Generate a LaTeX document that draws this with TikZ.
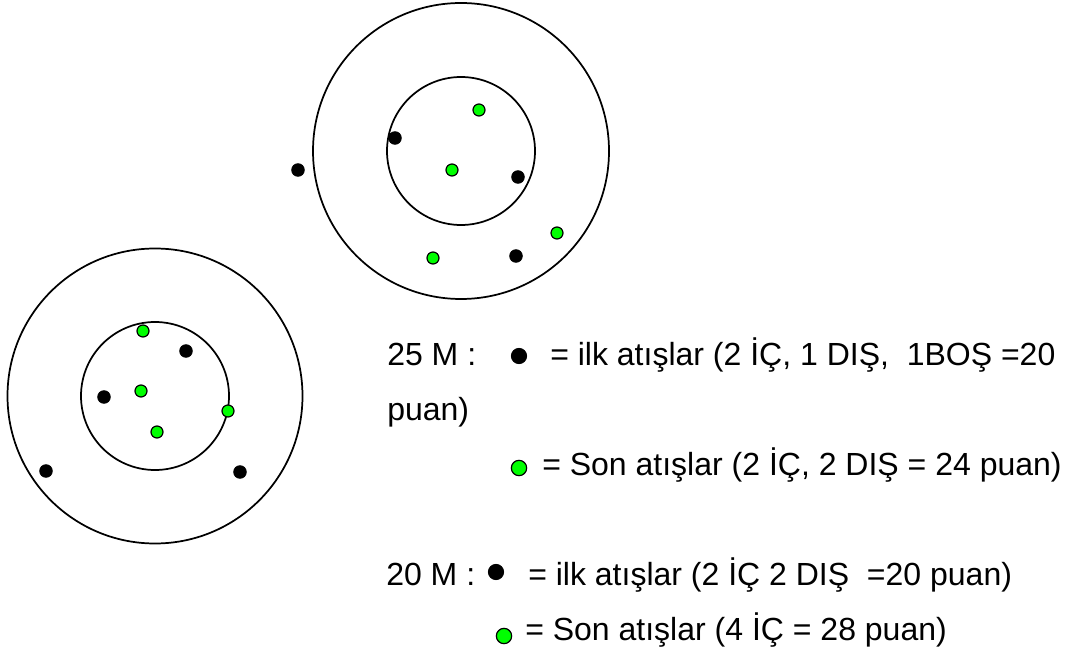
\documentclass[tikz,border=0pt]{standalone}
\usepackage{fontspec}
\setmainfont{Liberation Sans}
\begin{document}
\begin{tikzpicture}[x=0.75pt,y=-0.75pt,
  ring/.style={draw=black,line width=1.3pt},
  hit/.style={circle,fill=black,draw=black,line width=0.6pt,minimum size=9.5pt,inner sep=0pt},
  lasthit/.style={circle,fill=green,draw=black,line width=0.9pt,minimum size=9pt,inner sep=0pt},
  keyhit/.style={hit,minimum size=11.5pt},
  keylast/.style={lasthit,minimum size=11.5pt},
  lab/.style={anchor=base west,inner sep=0pt,font=\fontsize{24pt}{29pt}\selectfont}]
\useasboundingbox (0,0) rectangle (1080,655);
% 25 m target
\coordinate (tA) at (461,151);
\draw[ring] (tA) circle[radius=148*0.75pt];
\draw[ring] (tA) circle[radius=74*0.75pt];
\node[hit] (a1) at (298,170) {};
\node[hit] (a2) at (395,138) {};
\node[hit] (a3) at (518,177) {};
\node[hit] (a4) at (516,256) {};
\node[lasthit] (a5) at (479,110) {};
\node[lasthit] (a6) at (452,170) {};
\node[lasthit] (a7) at (557,233) {};
\node[lasthit] (a8) at (433,258) {};
% 20 m target
\coordinate (tB) at (155,396);
\draw[ring] (tB) circle[radius=147.5*0.75pt];
\draw[ring] (tB) circle[radius=74*0.75pt];
\node[hit] (b1) at (186,351) {};
\node[hit] (b2) at (104,397) {};
\node[hit] (b3) at (46,471) {};
\node[hit] (b4) at (240,472) {};
\node[lasthit] (b5) at (143,331) {};
\node[lasthit] (b6) at (141,391) {};
\node[lasthit] (b7) at (228,411) {};
\node[lasthit] (b8) at (157,432) {};
% legend
\node[lab] (l1) at (387,365) {25 M :};
\node[keyhit] (k1) at (519,356) {};
\node[lab] (l2) at (550,365) {= ilk atışlar (2 İÇ, 1 DIŞ,\ \ 1BOŞ =20};
\node[lab] (l3) at (387,420) {puan)};
\node[keylast] (k2) at (519,468) {};
\node[lab] (l4) at (542,475) {= Son atışlar (2 İÇ, 2 DIŞ = 24 puan)};
\node[lab] (l5) at (386,585) {20 M :};
\node[keyhit] (k3) at (496,572) {};
\node[lab] (l6) at (528,585) {= ilk atışlar (2 İÇ 2 DIŞ \ =20 puan)};
\node[keylast] (k4) at (504,636) {};
\node[lab] (l7) at (525,640) {= Son atışlar (4 İÇ = 28 puan)};
\end{tikzpicture}
\end{document}
